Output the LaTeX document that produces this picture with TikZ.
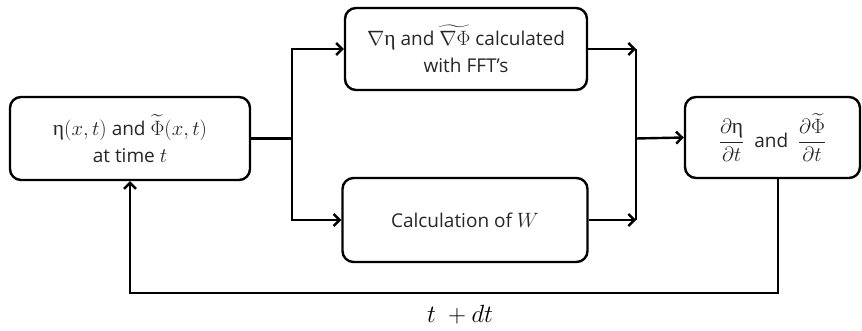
\documentclass[tikz,border=0pt]{standalone}
\usepackage{amsmath}
\usepackage{fontspec}
\setmainfont{Open Sans}
\newfontfamily\serifgr{Liberation Serif}
\usetikzlibrary{arrows.meta}
\newcommand{\ueta}{\mbox{\serifgr η}}
\newcommand{\mz}{\fontsize{21.5}{25}\selectfont}
\begin{document}
\begin{tikzpicture}[x=1pt,y=-1pt,
  box/.style={draw, line width=2.4pt, rounded corners=11pt, align=center, font=\fontsize{19}{27}\selectfont, text=black!85},
  conn/.style={line width=2.4pt},
  arr/.style={conn, -{Straight Barb[length=6pt,width=12pt,line width=2.4pt]}}]
\useasboundingbox (0,0) rectangle (862,331);
\node[box, minimum width=240pt, minimum height=83pt] (state) at (130,138.5) {{\mz$\ueta(x,t)$} and {\mz$\widetilde{\Phi}(x,t)$}\\at time {\mz$t$}};
\node[box, minimum width=242pt, minimum height=82pt] (grad) at (466,49) {{\mz$\nabla\ueta$} and {\mz$\widetilde{\nabla\Phi}$} calculated\\with FFT’s};
\node[box, minimum width=245pt, minimum height=84pt] (calc) at (465,220) {Calculation of {\mz$W$}};
\node[box, minimum width=175pt, minimum height=81pt] (deriv) at (772.5,137.5) {{\mz$\dfrac{\partial\ueta}{\partial t}$}\ \ and\ \ {\mz$\dfrac{\partial\widetilde{\Phi}}{\partial t}$}};
\coordinate (split) at (292,138.5);
\coordinate (merge) at (636,138.5);
\coordinate (fb) at (778,293);
\draw[conn] (state.east) -- (split);
\draw[arr] (split) |- (grad.west);
\draw[arr] (split) |- (calc.west);
\draw[arr] (grad.east) -- (grad.east -| merge);
\draw[conn] (grad.east -| merge) -- (calc.east -| merge);
\draw[arr] (calc.east) -- (calc.east -| merge);
\draw[arr] (merge) -- (deriv.west);
\draw[arr] (fb |- deriv.south) -- (fb) -| (state.south);
\node[font=\fontsize{26}{30}\selectfont] (lbl) at (460,315) {$t\ +dt$};
\end{tikzpicture}
\end{document}
